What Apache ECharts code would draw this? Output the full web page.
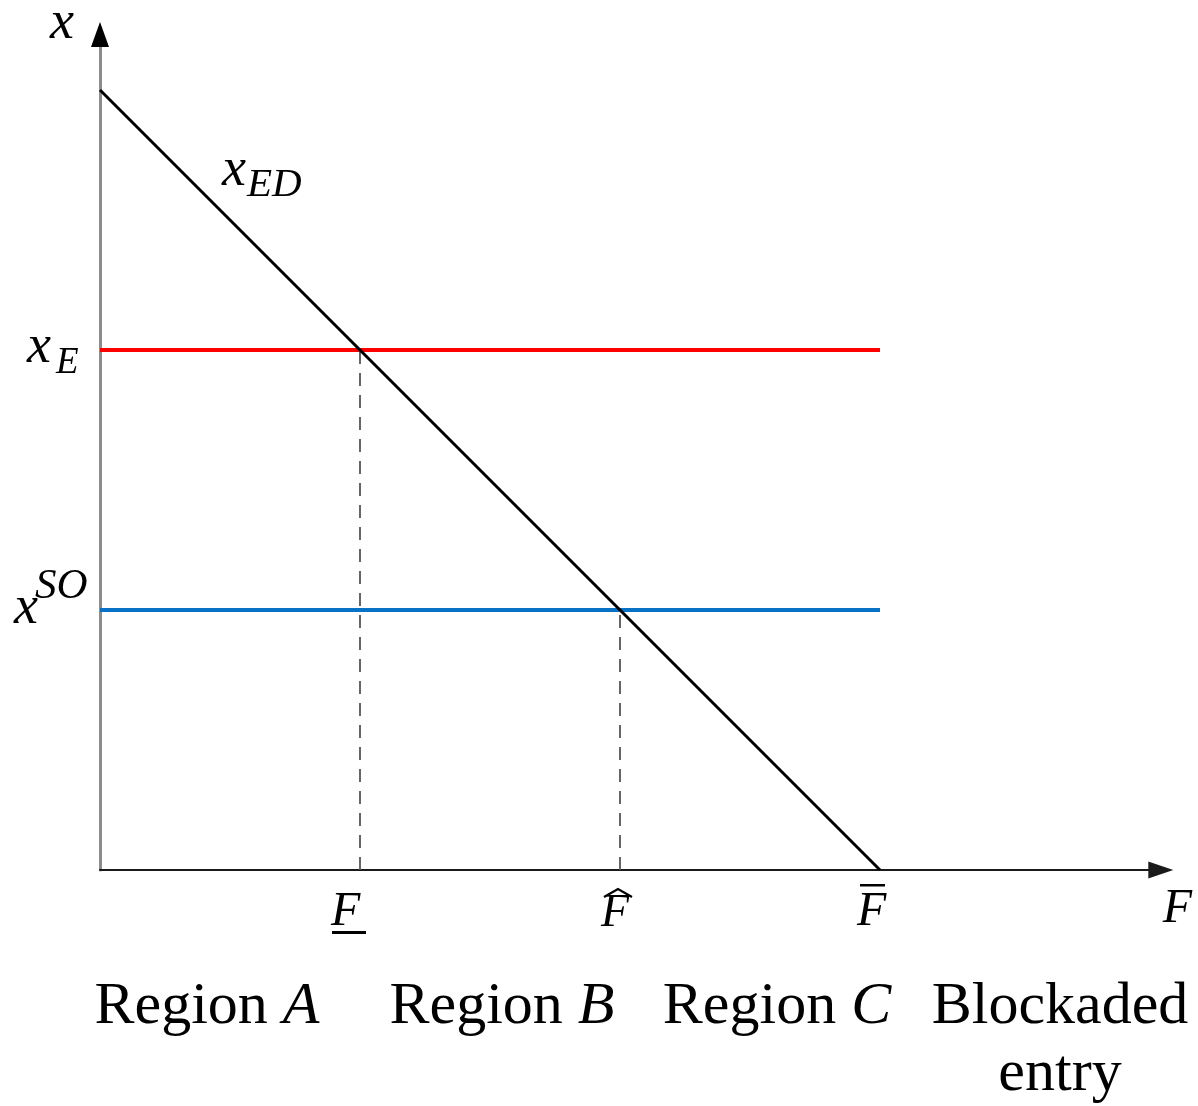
<!DOCTYPE html>
<html>
<head>
<meta charset="utf-8">
<script src="https://cdn.jsdelivr.net/npm/echarts@6/dist/echarts.min.js"></script>
<style>
  html, body { margin: 0; padding: 0; background: #fff; }
  #chart { width: 1198px; height: 1106px; }
</style>
</head>
<body>
<div id="chart"></div>
<script>
// Entry-deterrence diagram: threshold x_ED falling with entry cost F
const fCuts = [1, 2, 3];                 // F underline, F hat, F bar
const edLine = [[0, 3], [3, 0]];         // x_ED
const xELevel = 2;                       // x_E
const xSOLevel = 1;                      // x^SO
const xELine = [[0, xELevel], [3, xELevel]];
const xSOLine = [[0, xSOLevel], [3, xSOLevel]];
const dropA = [[1, 0], [1, xELevel]];
const dropB = [[2, 0], [2, xSOLevel]];
const regionNames = ['A', 'B', 'C'];
const blockadedText = ['Blockaded', 'entry'];
const xMax = 4.08;
const yMax = 3.165;

const SERIF = '"Liberation Serif", "Times New Roman", serif';
const chart = echarts.init(document.getElementById('chart'), null, { renderer: 'canvas' });

const lineSeries = (name, data, color, width, type, z) => ({
  name, type: 'line', data, showSymbol: false, silent: true, z,
  lineStyle: { color, width, type }, animation: false
});

chart.setOption({
  animation: false,
  grid: { left: 100, right: 1198 - 100 - xMax * 260, top: 870 - yMax * 260, bottom: 236 },
  xAxis: {
    type: 'value', min: 0, max: xMax,
    axisLine: { show: true, onZero: false, lineStyle: { color: '#1a1a1a', width: 2 },
      symbol: ['none', 'triangle'], symbolSize: [17, 25] },
    axisTick: { show: false }, axisLabel: { show: false }, splitLine: { show: false }
  },
  yAxis: {
    type: 'value', min: 0, max: yMax,
    axisLine: { show: true, onZero: false, lineStyle: { color: '#8c8c8c', width: 3 } },
    axisTick: { show: false }, axisLabel: { show: false }, splitLine: { show: false }
  },
  series: [
    lineSeries('xE', xELine, '#ff0000', 4, 'solid', 2),
    lineSeries('xSO', xSOLine, '#0a72c6', 4, 'solid', 2),
    lineSeries('dropA', dropA, '#555', 1.8, [13, 9], 3),
    lineSeries('dropB', dropB, '#555', 1.8, [13, 9], 3),
    lineSeries('xED', edLine, '#000', 3, 'solid', 4)
  ]
});

const px = (f, x) => chart.convertToPixel({ gridIndex: 0 }, [f, x]);
const BASE = 0.27;

// text placed by its left edge and baseline
const txt = (s, left, base, size, italic) => ({
  type: 'text', z: 10, silent: true,
  style: {
    text: s, x: left, y: base - size * BASE,
    font: (italic ? 'italic ' : '') + size + 'px ' + SERIF,
    fill: '#000', align: 'left', verticalAlign: 'middle'
  }
});

const g = [];
const yTop = px(0, yMax);
// y-axis arrow head and name
g.push({ type: 'polygon', z: 10, silent: true,
  shape: { points: [[yTop[0], yTop[1] - 25], [yTop[0] - 9, yTop[1]], [yTop[0] + 9, yTop[1]]] },
  style: { fill: '#000' } });
g.push(txt('x', yTop[0] - 50, yTop[1] - 9, 54, true));

// x_ED next to the line
const ed0 = px(edLine[0][0], edLine[0][1]);
g.push(txt('x', ed0[0] + 122, ed0[1] + 95, 54, true));
g.push(txt('ED', ed0[0] + 147, ed0[1] + 106, 41, true));

// x_E and x^SO on the vertical axis
const pE = px(0, xELevel);
g.push(txt('x', pE[0] - 73, pE[1] + 12, 54, true));
g.push(txt('E', pE[0] - 44, pE[1] + 23, 37, true));
const pS = px(0, xSOLevel);
g.push(txt('x', pS[0] - 86, pS[1] + 13, 54, true));
g.push(txt('SO', pS[0] - 65, pS[1] - 12, 43, true));

// F tick labels with their accents
const p1 = px(fCuts[0], 0);
g.push(txt('F', p1[0] - 29, p1[1] + 55, 48, true));
g.push({ type: 'rect', z: 10, silent: true,
  shape: { x: p1[0] - 28, y: p1[1] + 61, width: 34, height: 3 }, style: { fill: '#000' } });
const p2 = px(fCuts[1], 0);
g.push(txt('F', p2[0] - 19, p2[1] + 56, 46, true));
g.push({ type: 'polyline', z: 10, silent: true,
  shape: { points: [[p2[0] - 16, p2[1] + 27], [p2[0] - 2, p2[1] + 19], [p2[0] + 12, p2[1] + 27]] },
  style: { stroke: '#000', lineWidth: 2.2, fill: null } });
const p3 = px(fCuts[2], 0);
g.push(txt('F', p3[0] - 23, p3[1] + 55, 48, true));
g.push({ type: 'rect', z: 10, silent: true,
  shape: { x: p3[0] - 20, y: p3[1] + 14, width: 25, height: 2.5 }, style: { fill: '#000' } });
// x-axis name
const pEnd = px(xMax, 0);
g.push(txt('F', pEnd[0] + 2, pEnd[1] + 52, 48, true));

// region captions under the axis
const regionCenters = [207, 502, 777];
regionNames.forEach((r, i) => {
  g.push({ type: 'text', z: 10, silent: true,
    style: {
      text: '{r|Region }{i|' + r + '}', x: regionCenters[i], y: 1023 - 60 * BASE,
      align: 'center', verticalAlign: 'middle',
      rich: {
        r: { font: '60px ' + SERIF, fill: '#000' },
        i: { font: 'italic 60px ' + SERIF, fill: '#000' }
      }
    } });
});
g.push({ type: 'text', z: 10, silent: true,
  style: { text: blockadedText[0], x: 1060, y: 1023 - 60 * BASE, align: 'center', verticalAlign: 'middle',
    font: '60px ' + SERIF, fill: '#000' } });
g.push({ type: 'text', z: 10, silent: true,
  style: { text: blockadedText[1], x: 1060, y: 1090 - 60 * BASE, align: 'center', verticalAlign: 'middle',
    font: '60px ' + SERIF, fill: '#000' } });

chart.setOption({ graphic: g });
</script>
</body>
</html>
